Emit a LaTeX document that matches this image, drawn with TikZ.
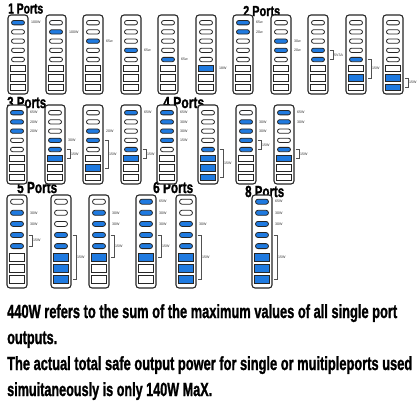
\documentclass[tikz,border=0pt]{standalone}
\usepackage{fontspec}
\usepackage{graphicx}
\setmainfont{Liberation Sans}
\newfontfamily\heavyfam[BoldFeatures={FakeBold=1.6}]{Liberation Sans}
\definecolor{portblue}{HTML}{1F7AE0}
\definecolor{edge}{HTML}{262626}
\newlength\linew
\newcommand\setrow[6]{\def\rtop{#1}\def\rh{#2}\def\roff{#3}\def\rsp{#4}\def\roh{#5}\def\rrh{#6}}
\newcommand\dev[3]{%
  \draw[devbox] (#2,\rtop) rectangle ++(20,\rh);
  \foreach \f [count=\i] in {#3} {
    \pgfmathsetmacro\cy{\rtop+\roff+(\i-1)*\rsp}
    \ifnum\f=1 \def\fc{portblue}\else\def\fc{white}\fi
    \ifnum\i<6
      \pgfmathsetmacro\rr{\roh/2}
      \draw[port, fill=\fc, rounded corners=\rr pt] (#2+3.5,\cy-\roh/2) rectangle (#2+16.5,\cy+\roh/2);
    \else
      \draw[port, fill=\fc] (#2+2.5,\cy-\rrh/2) rectangle (#2+17.5,\cy+\rrh/2);
    \fi
    \coordinate (#1-\i) at (#2+20,\cy);
  }%
}
\newcommand\plab[3]{\node[lbl] (#1-l#2) at ([xshift=3pt]#1-#2) {#3};}
\newcommand\pbrk[4]{%
  \draw[brk] ([xshift=1.5pt]#1-#2) -- ([xshift=5pt]#1-#2) -- ([xshift=5pt]#1-#3) -- ([xshift=1.5pt]#1-#3);
  \path ([xshift=5pt]#1-#2) -- node[lbl, xshift=1pt, name=#1-b] {#4} ([xshift=5pt]#1-#3);}
\newcommand\fitbox[3]{% width, size, text
  \heavyfam\bfseries\fontsize{#2}{#2}\selectfont
  \settowidth\linew{#3}%
  \pgfmathsetmacro\sx{#1/\linew}%
  \scalebox{\sx}[1]{#3}}
\newcommand\fitline[6]{% name, x, baseline y, width, size, text
  \node[anchor=base west, inner sep=0] (#1) at (#2,#3) {\fitbox{#4}{#5}{#6}};}
\tikzset{
  devbox/.style={draw=edge, line width=1.1pt, rounded corners=3pt, fill=white},
  port/.style={draw=edge, line width=0.8pt},
  brk/.style={draw=edge!80, line width=0.5pt},
  lbl/.style={font=\fontsize{3.6}{4}\selectfont, text=black!80, inner sep=0, anchor=west},
}
\begin{document}
\begin{tikzpicture}[x=1pt,y=-1pt]
\fill[white] (0,0) rectangle (416,416);
\useasboundingbox (0,0) rectangle (416,416);
% titles
\fitline{t1}{8}{13.5}{35}{14.5}{1 Ports}
\fitline{t2}{243}{16}{37}{14.5}{2 Ports}
\fitline{t3}{7}{108}{39}{16}{3 Ports}
\fitline{t4}{163}{108}{41}{16}{4 Ports}
\fitline{t5}{17}{193}{40}{16}{5 Ports}
\fitline{t6}{153}{193}{40}{16}{6 Ports}
\fitline{t8}{245}{197}{39}{16}{8 Ports}
% row 1
\setrow{15}{79}{7.7}{9.2}{4.3}{6.3}
\dev{a1}{8}{1,0,0,0,0,0,0,0}
\dev{a2}{46}{0,1,0,0,0,0,0,0}
\dev{a3}{83}{0,0,1,0,0,0,0,0}
\dev{a4}{121}{0,0,0,1,0,0,0,0}
\dev{a5}{158}{0,0,0,0,1,0,0,0}
\dev{a6}{196}{0,0,0,0,0,1,0,0}
\dev{a7}{233}{1,1,0,0,0,0,0,0}
\dev{a8}{271}{0,0,1,1,0,0,0,0}
\dev{a9}{308}{0,0,0,1,1,0,0,0}
\dev{a10}{346}{0,0,0,0,1,0,1,0}
\dev{a11}{383}{0,0,0,0,0,0,1,1}
\plab{a1}{1}{100W}
\plab{a2}{2}{100W}
\plab{a3}{3}{65w}
\plab{a4}{4}{65w}
\plab{a5}{5}{65w}
\plab{a6}{6}{18W}
\plab{a7}{1}{65w}
\plab{a7}{2}{20w}
\plab{a8}{3}{30w}
\plab{a8}{4}{20w}
\pbrk{a9}{4}{5}{5V3A}
\pbrk{a10}{5}{7}{15W}
\pbrk{a11}{7}{8}{15W}
% row 2
\setrow{105}{79}{7.7}{9.2}{4.3}{6.3}
\dev{b1}{7}{1,1,1,0,0,0,0,0}
\dev{b2}{45}{0,0,0,1,1,1,0,0}
\dev{b3}{83}{0,0,1,1,0,0,1,0}
\dev{b4}{121}{1,0,0,0,1,1,0,0}
\dev{b5}{157}{1,1,1,1,0,0,0,0}
\dev{b6}{198}{0,0,0,0,1,1,1,1}
\dev{b7}{236}{0,1,1,1,1,0,0,0}
\dev{b8}{274}{1,1,0,0,1,1,0,0}
\plab{b1}{1}{65W}
\plab{b1}{2}{20W}
\plab{b1}{3}{20W}
\plab{b2}{4}{30W}
\pbrk{b2}{5}{6}{15W}
\plab{b3}{3}{20W}
\pbrk{b3}{4}{7}{15W}
\plab{b4}{1}{65W}
\pbrk{b4}{5}{6}{15W}
\plab{b5}{1}{65W}
\plab{b5}{2}{30W}
\plab{b5}{3}{30W}
\plab{b5}{4}{15W}
\pbrk{b6}{5}{8}{15W}
\plab{b7}{2}{30W}
\plab{b7}{3}{30W}
\pbrk{b7}{4}{5}{15W}
\plab{b8}{1}{65W}
\plab{b8}{2}{30W}
\pbrk{b8}{5}{6}{15W}
% row 3
\setrow{195}{93}{6.7}{11.1}{5}{7.7}
\dev{c1}{7}{0,1,1,1,1,0,0,0}
\dev{c2}{51}{0,0,0,1,1,1,1,1}
\dev{c3}{89}{0,1,1,1,1,1,0,0}
\dev{c4}{136}{1,1,1,1,1,1,0,0}
\dev{c5}{176}{0,0,1,1,1,1,1,1}
\dev{c6}{252}{1,1,1,1,1,1,1,1}
\plab{c1}{2}{30W}
\plab{c1}{3}{30W}
\pbrk{c1}{4}{5}{15W}
\pbrk{c2}{4}{8}{15W}
\plab{c3}{2}{30W}
\plab{c3}{3}{30W}
\pbrk{c3}{4}{6}{15W}
\plab{c4}{1}{65W}
\plab{c4}{2}{30W}
\plab{c4}{3}{30W}
\pbrk{c4}{4}{6}{15W}
\plab{c5}{3}{30W}
\pbrk{c5}{4}{8}{15W}
\plab{c6}{1}{65W}
\plab{c6}{2}{30W}
\plab{c6}{3}{30W}
\pbrk{c6}{4}{8}{15W}
% text
\fitline{l1}{7}{318}{390}{19}{440W refers to the sum of the maximum values of all single port}
\fitline{l2}{7}{344}{50}{19}{outputs.}
\fitline{l3}{7}{370}{405}{19}{The actual total safe output power for single or muitipleports used}
\fitline{l4}{7}{396}{205}{19}{simuitaneously is only 140W MaX.}
\end{tikzpicture}
\end{document}
